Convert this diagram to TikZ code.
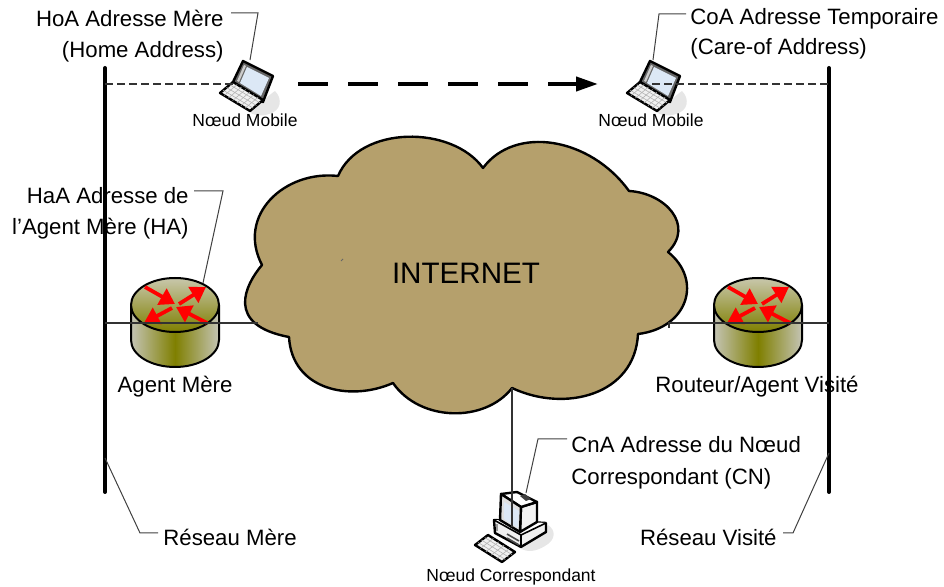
\documentclass[tikz,border=0pt]{standalone}
\usepackage{fontspec}
\setmainfont{Liberation Sans}
\usetikzlibrary{arrows.meta}
\definecolor{cloudtan}{HTML}{B5A06C}
\definecolor{routerolive}{HTML}{7F7F00}
\definecolor{routerpale}{HTML}{C4C4B4}
\definecolor{routertop}{HTML}{C8C7AC}
\definecolor{screenblue}{HTML}{DCE8F6}
\definecolor{shadowgrey}{HTML}{E6E6E6}
\tikzset{
  bigtxt/.style={font=\fontsize{11.1pt}{13pt}\selectfont, inner sep=0pt},
  smalltxt/.style={font=\fontsize{8.75pt}{10pt}\selectfont, inner sep=0pt},
  bar/.style={line width=2pt, line cap=round},
  wire/.style={line width=0.55pt, black!80},
  leader/.style={line width=0.5pt, black!75},
  hwline/.style={line width=1.2pt, line join=round, draw=black},
  redarrow/.style={red, line width=1.9pt, -{Triangle[length=7.5pt,width=9pt]}},
  routerpic/.pic={
    \shade[left color=routerpale, right color=routerpale, middle color=routerolive]
      (-44,0) -- (-44,35) arc[start angle=180,end angle=360,x radius=22pt,y radius=13.5pt] -- (44,0) -- cycle;
    \draw[hwline, line width=1pt] (-44,0) -- (-44,35) arc[start angle=180,end angle=360,x radius=22pt,y radius=13.5pt] -- (44,0);
    \draw[hwline, line width=1pt, top color=routertop, bottom color=routerolive] (0,0) circle[x radius=22pt,y radius=13.5pt];
    \draw[redarrow] (-30,-18) -- (0,-1);
    \draw[redarrow] (4,-1) -- (31,-18);
    \draw[redarrow] (-3,3) -- (-31,18);
    \draw[redarrow] (32,18) -- (1,2);
  },
  laptoppic/.pic={
    \fill[shadowgrey] (4,27) .. controls (16,18) and (24,10) .. (30,6) .. controls (38,14) and (36,26) .. (24,29) .. controls (16,32) and (8,30) .. (4,27) -- cycle;
    \draw[hwline, fill=black!60] (-12,-3) -- (-2,-24) -- (28,-9) -- (18,17) -- cycle;
    \fill[screenblue] (2,-18) -- (24,-7) -- (16,11) -- (-5,-2) -- cycle;
    \fill[black!20] (-1,-20) -- (1,-19) -- (-6,-3) -- (-8,-4) -- cycle;
    \draw[hwline, fill=black!6] (-25,8) -- (-12,-3) -- (18,15) -- (5,26) -- cycle;
    \foreach \t in {0.25,0.5,0.75} {
      \draw[black!30, line width=0.3pt] (-25+13*\t,8-11*\t) -- (5+13*\t,26-11*\t);
    }
    \foreach \t in {0.14,0.28,0.42,0.56,0.7,0.84} {
      \draw[black!30, line width=0.3pt] (-25+30*\t,8+18*\t) -- (-12+30*\t,-3+18*\t);
    }
  },
}
\begin{document}
\begin{tikzpicture}[x=0.5pt, y=-0.5pt]
\useasboundingbox (0,0) rectangle (944,587);
% points the connectors run to
\coordinate (barLtop) at (105,68);
\coordinate (barLbot) at (105,492);
\coordinate (barRtop) at (829,68);
\coordinate (barRbot) at (829,492);
\coordinate (tapLmob) at (105,84);
\coordinate (tapRmob) at (829,84);
\coordinate (tapLrt) at (105,323);
\coordinate (tapRrt) at (829,323);
\coordinate (mobA) at (236,84);
\coordinate (mobB) at (652,84);
\coordinate (moveA) at (298,84);
\coordinate (moveB) at (598,84);
\coordinate (cloudL) at (258,323);
\coordinate (cloudR) at (669,323);
\coordinate (cloudTick) at (669,328);
\coordinate (cloudB) at (512,388);
\coordinate (pcIn) at (512,527);
\coordinate (startHoA) at (231,13);
\coordinate (kneeHoA) at (258,13);
\coordinate (hitMobA) at (250,60);
\coordinate (startCoA) at (686,14);
\coordinate (kneeCoA) at (659,14);
\coordinate (hitMobB) at (653,60);
\coordinate (startHaA) at (194,191);
\coordinate (kneeHaA) at (223,191);
\coordinate (hitRt) at (203,283);
\coordinate (startCnA) at (567,439);
\coordinate (kneeCnA) at (538,439);
\coordinate (hitPc) at (526,493);
\coordinate (startResM) at (158,533);
\coordinate (kneeResM) at (140,533);
\coordinate (hitBarL) at (105,458);
\coordinate (startResV) at (783,533);
\coordinate (kneeResV) at (793,533);
\coordinate (hitBarR) at (829,453);
% the cloud
\path[draw=black, line width=1.2pt, fill=cloudtan, line join=round]
  (338,176) .. controls (360,125) and (452,125) .. (483,168)
  .. controls (515,125) and (590,137) .. (629,191)
  .. controls (665,193) and (695,225) .. (668,252)
  .. controls (703,280) and (688,328) .. (638,334)
  .. controls (635,395) and (565,413) .. (512,388)
  .. controls (485,423) and (420,422) .. (393,383)
  .. controls (350,402) and (292,390) .. (289,337)
  .. controls (225,325) and (245,285) .. (262,265)
  .. controls (236,215) and (285,170) .. (338,176) -- cycle;
\node[font=\fontsize{14.8pt}{17pt}\selectfont, inner sep=0pt, anchor=base] (internet) at (466,284) {INTERNET};
\draw[black!60, line width=0.4pt] (341,261) -- (343,259);
% hardware
\pic (routerA) at (175,305) {routerpic};
\pic (routerB) at (758,305) {routerpic};
\pic (laptopA) at (245,85) {laptoppic};
\pic (laptopB) at (652,85) {laptoppic};
% the fixed host
\fill[shadowgrey] (521,549) .. controls (535,540) and (545,534) .. (548,525) .. controls (556,530) and (556,540) .. (545,546) .. controls (535,552) and (528,552) .. (521,549) -- cycle;
\draw[hwline, fill=black!6] (494,520) -- (546,523) -- (546,532) -- (521,547) -- (495,533) -- cycle;
\draw[hwline, line width=0.8pt, fill=white] (494,520) -- (521,535) -- (546,523);
\draw[hwline, line width=0.8pt] (521,535) -- (521,547);
\draw[black!70, line width=0.8pt] (507,534) -- (519,541);
\draw[black!70, line width=0.8pt] (507,538) -- (519,545);
\draw[black!40, line width=0.8pt] (497,524) -- (497,531);
\draw[hwline, fill=black!5] (521,507) -- (537,502) -- (537,522) -- (520,532) -- cycle;
\draw[hwline, fill=white] (501,494) -- (517,492) -- (537,502) -- (521,507) -- cycle;
\draw[hwline, fill=black!12] (501,494) -- (521,507) -- (520,532) -- (500,520) -- cycle;
\fill[screenblue] (504,502) -- (519,511) -- (518,528) -- (504,519) -- cycle;
\fill[black!75] (520,496) -- (525,494) -- (531,499) -- (526,501) -- cycle;
\draw[hwline, fill=black!6] (475,545) -- (488,535) -- (515,552) -- (502,562) -- cycle;
\foreach \t in {0.25,0.5,0.75} {
  \draw[black!30, line width=0.3pt] (475+13*\t,545-10*\t) -- (502+13*\t,562-10*\t);
}
\foreach \t in {0.2,0.4,0.6,0.8} {
  \draw[black!30, line width=0.3pt] (475+27*\t,545+17*\t) -- (488+27*\t,535+17*\t);
}
% the labels
\node[bigtxt, anchor=base east] (hoaA) at (224,27) {HoA Adresse Mère};
\node[bigtxt, anchor=base east] (hoaB) at (224,58) {(Home Address)};
\node[bigtxt, anchor=base west] (coaA) at (690,25) {CoA Adresse Temporaire};
\node[bigtxt, anchor=base west] (coaB) at (690,55) {(Care-of Address)};
\node[bigtxt, anchor=base east] (haaA) at (189,204) {HaA Adresse de};
\node[bigtxt, anchor=base east] (haaB) at (189,235) {l’Agent Mère (HA)};
\node[bigtxt, anchor=base] (agent) at (175,393) {Agent Mère};
\node[bigtxt, anchor=base] (routeur) at (757,393) {Routeur/Agent Visité};
\node[bigtxt, anchor=base west] (cnaA) at (571,453) {CnA Adresse du Nœud};
\node[bigtxt, anchor=base west] (cnaB) at (571,485) {Correspondant (CN)};
\node[bigtxt, anchor=base west] (resM) at (163,546) {Réseau Mère};
\node[bigtxt, anchor=base east] (resV) at (777,546) {Réseau Visité};
\node[smalltxt, anchor=base] (mobTxtA) at (245,127) {Nœud Mobile};
\node[smalltxt, anchor=base] (mobTxtB) at (651,127) {Nœud Mobile};
\node[smalltxt, anchor=base] (pcTxt) at (511,582) {Nœud Correspondant};
% the network
\draw[bar] (barLtop) -- (barLbot);
\draw[bar] (barRtop) -- (barRbot);
\draw[wire, dash pattern=on 4pt off 2pt] (tapLmob) -- (mobA);
\draw[wire, dash pattern=on 4pt off 2pt] (mobB) -- (tapRmob);
\draw[wire] (tapLrt) -- (cloudL);
\draw[wire] (cloudTick) -- (cloudR) -- (tapRrt);
\draw[wire] (cloudB) -- (pcIn);
\draw[line width=2pt, dash pattern=on 15pt off 10pt, -{Triangle[length=11pt,width=7pt]}] (moveA) -- (moveB);
\draw[leader] (startHoA) -- (kneeHoA) -- (hitMobA);
\draw[leader] (startCoA) -- (kneeCoA) -- (hitMobB);
\draw[leader] (startHaA) -- (kneeHaA) -- (hitRt);
\draw[leader] (startCnA) -- (kneeCnA) -- (hitPc);
\draw[leader] (startResM) -- (kneeResM) -- (hitBarL);
\draw[leader] (startResV) -- (kneeResV) -- (hitBarR);
\end{tikzpicture}
\end{document}
